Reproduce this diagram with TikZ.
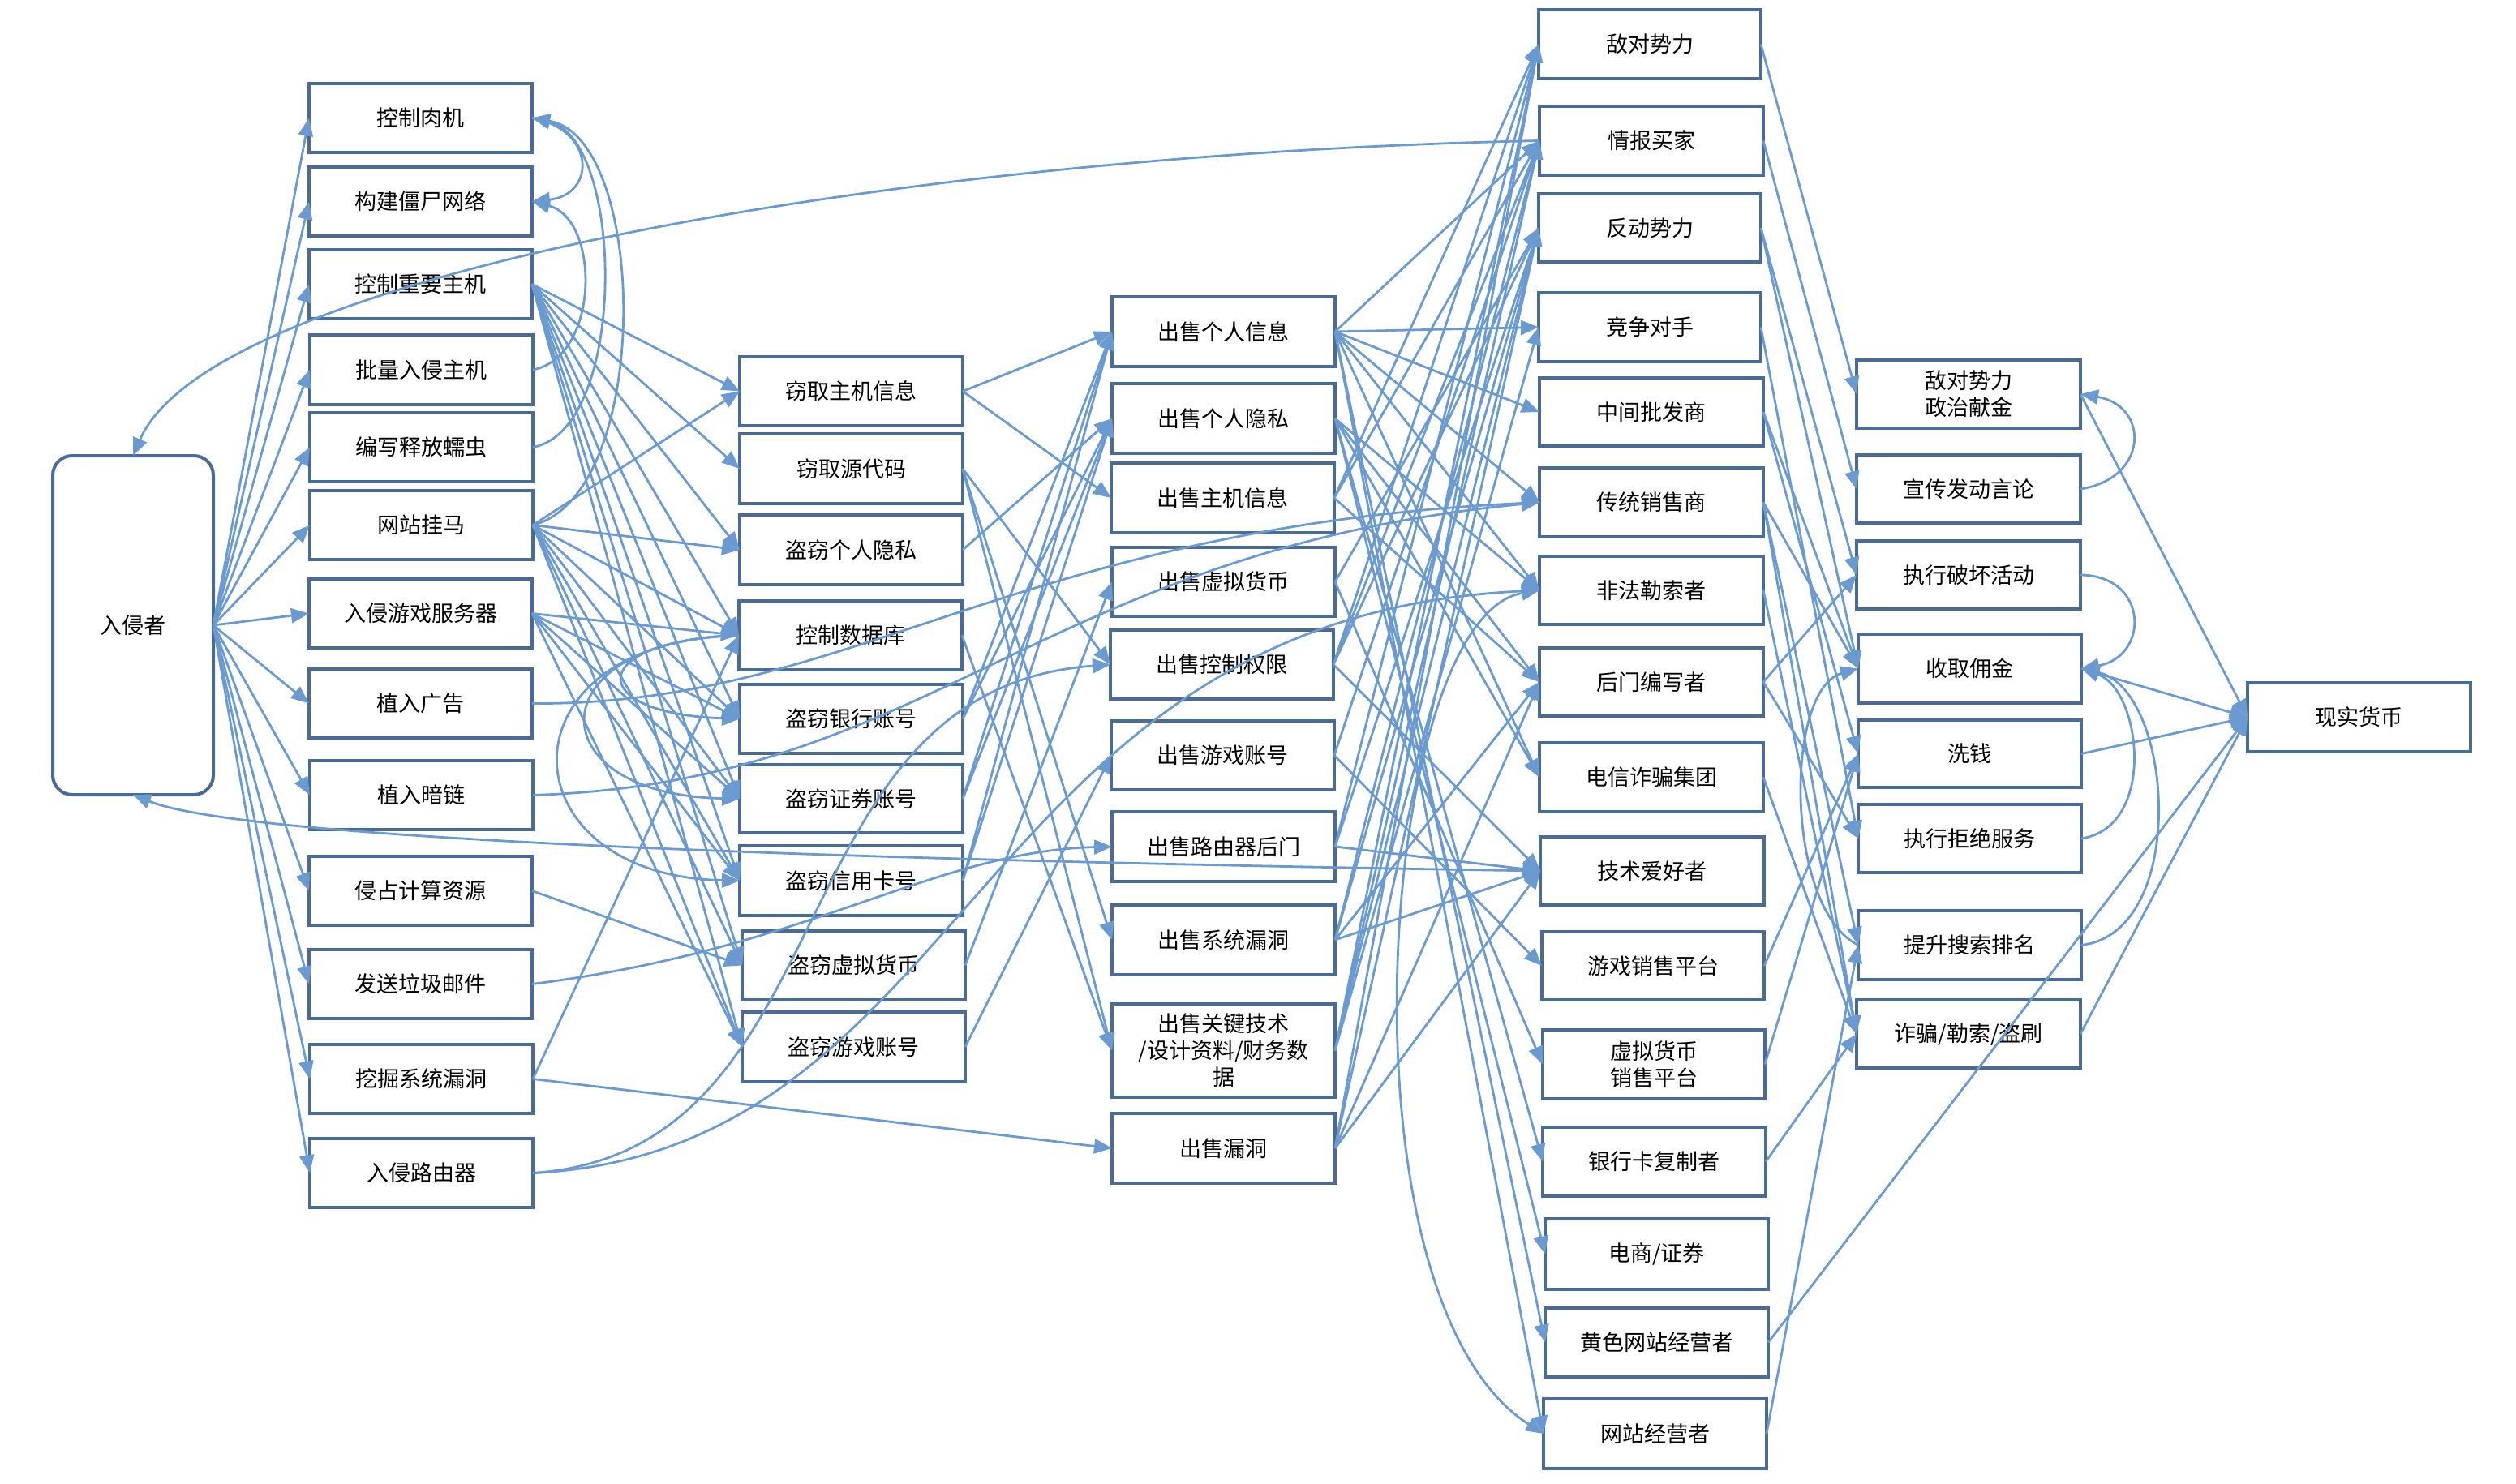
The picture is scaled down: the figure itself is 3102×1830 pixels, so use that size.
\documentclass[tikz,border=0pt]{standalone}
\usepackage{fontspec}
\setmainfont{Noto Sans CJK SC}
\usetikzlibrary{arrows.meta}
\definecolor{boxc}{HTML}{4A6A97}
\definecolor{linec}{HTML}{6A9AD0}
\tikzset{
  nbox/.style={draw=boxc, line width=2pt, fill=white, inner sep=0pt, outer sep=0pt, align=center, font=\fontsize{13.5}{16.5}\selectfont},
  arr/.style={draw=linec, line width=1.4pt, -{Triangle[length=11pt,width=9pt]}},
  arrb/.style={draw=linec, line width=1.4pt, {Triangle[length=11pt,width=9pt]}-{Triangle[length=11pt,width=9pt]}}
}
\newcommand{\mybox}[6]{%
  \pgfmathsetmacro{\mybw}{(#4-#2)/2}%
  \pgfmathsetmacro{\mybh}{(#5-#3)/2}%
  \node[nbox, minimum width=\mybw pt, minimum height=\mybh pt] (#1) at ({(#2+#4)/2},{(#3+#5)/2}) {#6};}
\begin{document}
\begin{tikzpicture}[x=0.5pt, y=-0.5pt]
\fill[white] (0,0) rectangle (3102,1830);
\useasboundingbox (0,0) rectangle (3102,1830);
% column 0
\node[nbox, rounded corners=12pt, minimum width=99pt, minimum height=209pt] (intr) at (164,771) {入侵者};
% column 1
\mybox{a1}{381}{103}{656}{188}{控制肉机}
\mybox{a2}{381}{206}{656}{291}{构建僵尸网络}
\mybox{a3}{381}{308}{656}{393}{控制重要主机}
\mybox{a4}{382}{413}{657}{499}{批量入侵主机}
\mybox{a5}{382}{509}{657}{594}{编写释放蠕虫}
\mybox{a6}{382}{605}{657}{690}{网站挂马}
\mybox{a7}{381}{714}{656}{799}{入侵游戏服务器}
\mybox{a8}{381}{825}{656}{910}{植入广告}
\mybox{a9}{382}{938}{657}{1023}{植入暗链}
\mybox{a10}{381}{1056}{656}{1141}{侵占计算资源}
\mybox{a11}{381}{1171}{656}{1256}{发送垃圾邮件}
\mybox{a12}{382}{1288}{657}{1373}{挖掘系统漏洞}
\mybox{a13}{382}{1404}{657}{1489}{入侵路由器}
% column 2
\mybox{b1}{912}{440}{1187}{525}{窃取主机信息}
\mybox{b2}{912}{535}{1187}{621}{窃取源代码}
\mybox{b3}{912}{635}{1187}{721}{盗窃个人隐私}
\mybox{b4}{911}{741}{1186}{826}{控制数据库}
\mybox{b5}{912}{844}{1187}{929}{盗窃银行账号}
\mybox{b6}{912}{943}{1187}{1027}{盗窃证券账号}
\mybox{b7}{912}{1043}{1187}{1129}{盗窃信用卡号}
\mybox{b8}{915}{1148}{1190}{1233}{盗窃虚拟货币}
\mybox{b9}{915}{1248}{1190}{1334}{盗窃游戏账号}
% column 3
\mybox{c1}{1371}{366}{1646}{452}{出售个人信息}
\mybox{c2}{1371}{473}{1646}{559}{出售个人隐私}
\mybox{c3}{1370}{571}{1645}{657}{出售主机信息}
\mybox{c4}{1371}{675}{1646}{760}{出售虚拟货币}
\mybox{c5}{1369}{777}{1644}{862}{出售控制权限}
\mybox{c6}{1370}{889}{1645}{974}{出售游戏账号}
\mybox{c7}{1371}{1001}{1646}{1087}{出售路由器后门}
\mybox{c8}{1371}{1116}{1646}{1202}{出售系统漏洞}
\mybox{c9}{1371}{1238}{1646}{1353}{出售关键技术\\/设计资料/财务数\\据}
\mybox{c10}{1371}{1373}{1646}{1459}{出售漏洞}
% column 4
\mybox{d1}{1897}{12}{2171}{97}{敌对势力}
\mybox{d2}{1898}{131}{2174}{216}{情报买家}
\mybox{d3}{1897}{239}{2171}{323}{反动势力}
\mybox{d4}{1897}{361}{2171}{446}{竞争对手}
\mybox{d5}{1898}{466}{2174}{550}{中间批发商}
\mybox{d6}{1898}{577}{2174}{662}{传统销售商}
\mybox{d7}{1898}{686}{2174}{770}{非法勒索者}
\mybox{d8}{1898}{799}{2174}{883}{后门编写者}
\mybox{d9}{1898}{916}{2174}{1001}{电信诈骗集团}
\mybox{d10}{1899}{1032}{2175}{1116}{技术爱好者}
\mybox{d11}{1901}{1149}{2175}{1233}{游戏销售平台}
\mybox{d12}{1902}{1270}{2176}{1355}{虚拟货币\\销售平台}
\mybox{d13}{1902}{1390}{2177}{1475}{银行卡复制者}
\mybox{d14}{1905}{1503}{2180}{1590}{电商/证券}
\mybox{d15}{1905}{1613}{2180}{1698}{黄色网站经营者}
\mybox{d16}{1903}{1725}{2178}{1811}{网站经营者}
% column 5
\mybox{e1}{2289}{444}{2565}{528}{敌对势力\\政治献金}
\mybox{e2}{2289}{561}{2565}{645}{宣传发动言论}
\mybox{e3}{2289}{667}{2565}{751}{执行破坏活动}
\mybox{e4}{2291}{782}{2566}{867}{收取佣金}
\mybox{e5}{2291}{888}{2566}{971}{洗钱}
\mybox{e6}{2291}{992}{2566}{1076}{执行拒绝服务}
\mybox{e7}{2291}{1123}{2566}{1208}{提升搜索排名}
\mybox{e8}{2289}{1233}{2565}{1317}{诈骗/勒索/盗刷}
\mybox{f}{2771}{842}{3046}{927}{现实货币}

% ---------- connectors ----------
\foreach \t in {a1,a2,a3,a4,a5,a6,a7,a8,a9,a10,a11,a12,a13}
  \draw[arr] (intr.east) -- (\t.west);
\draw[arr] (d2.west) .. controls (1100,190) and (260,340) .. (intr.north);
\draw[arr] (d10.west) .. controls (1000,1060) and (300,1035) .. (intr.south);
% loops in column 1
\draw[arr] (a1.east) .. controls (735,160) and (735,240) .. (a2.east);
\draw[arr] (a4.east) .. controls (740,440) and (740,270) .. (a2.east);
\draw[arr] (a5.east) .. controls (775,530) and (770,170) .. (a1.east);
\draw[arr] (a6.east) .. controls (805,610) and (800,170) .. (a1.east);
% column 1 -> column 2
\foreach \t in {b1,b2,b3,b4,b5,b6,b7,b8,b9}
  \draw[arr] (a3.east) -- (\t.west);
\foreach \t in {b1,b3,b4,b5,b6,b7,b8,b9}
  \draw[arr] (a6.east) -- (\t.west);
\foreach \t in {b4,b5,b6,b7,b9}
  \draw[arr] (a7.east) -- (\t.west);
\draw[arr] (a10.east) -- (b8.west);
\draw[arr] (a12.east) -- (b4.west);
\draw[arr] (a12.east) -- (c10.west);
% loops from control database
\draw[arr] (b4.west) .. controls (720,790) and (720,880) .. (b5.west);
\draw[arr] (b4.west) .. controls (660,790) and (660,980) .. (b6.west);
\draw[arr] (b4.west) .. controls (610,790) and (620,1080) .. (b7.west);
% long curves
\draw[arr] (a8.east) .. controls (1050,870) and (1250,650) .. (d6.west);
\draw[arr] (a9.east) .. controls (1150,965) and (1280,680) .. (d6.west);
\draw[arr] (a11.east) .. controls (1000,1170) and (1150,1050) .. (c7.west);
\draw[arr] (a13.east) .. controls (1050,1420) and (950,850) .. (c5.west);
\draw[arr] (a13.east) .. controls (1200,1420) and (1200,760) .. (d7.west);
\draw[arrb] (d7.west) .. controls (1700,760) and (1640,1600) .. (d16.west);
% column 2 -> column 3
\draw[arr] (b1.east) -- (c1.west);
\draw[arr] (b1.east) -- (c3.west);
\draw[arr] (b2.east) -- (c5.west);
\draw[arr] (b2.east) -- (c8.west);
\draw[arr] (b2.east) -- (c9.west);
\draw[arr] (b3.east) -- (c2.west);
\draw[arr] (b4.east) -- (c9.west);
\foreach \s in {b5,b6,b7} {
  \draw[arr] (\s.east) -- (c1.west);
  \draw[arr] (\s.east) -- (c2.west);
}
\draw[arr] (b8.east) -- (c4.west);
\draw[arr] (b9.east) -- (c6.west);
% column 3 -> column 4
\foreach \t in {d2,d4,d5,d6,d7,d9,d15,d16}
  \draw[arr] (c1.east) -- (\t.west);
\foreach \t in {d7,d8,d9,d13,d14}
  \draw[arr] (c2.east) -- (\t.west);
\foreach \t in {d1,d2,d8}
  \draw[arr] (c3.east) -- (\t.west);
\foreach \t in {d3,d12}
  \draw[arr] (c4.east) -- (\t.west);
\foreach \t in {d1,d2,d3,d10}
  \draw[arr] (c5.east) -- (\t.west);
\foreach \t in {d2,d11}
  \draw[arr] (c6.east) -- (\t.west);
\foreach \t in {d1,d3,d10}
  \draw[arr] (c7.east) -- (\t.west);
\foreach \t in {d2,d3,d8,d10}
  \draw[arr] (c8.east) -- (\t.west);
\foreach \t in {d1,d2,d3,d4}
  \draw[arr] (c9.east) -- (\t.west);
\foreach \t in {d1,d3,d8,d10}
  \draw[arr] (c10.east) -- (\t.west);
% column 4 -> column 5
\draw[arr] (d1.east) -- (e1.west);
\draw[arr] (d2.east) -- (e2.west);
\draw[arr] (d3.east) -- (e3.west);
\draw[arr] (d3.east) -- (e4.west);
\draw[arr] (d4.east) -- (e6.west);
\draw[arr] (d5.east) -- (e4.west);
\draw[arr] (d5.east) -- (e5.west);
\draw[arr] (d6.east) -- (e4.west);
\draw[arr] (d6.east) -- (e7.west);
\draw[arr] (d6.east) -- (e8.west);
\draw[arr] (d7.east) -- (e8.west);
\draw[arr] (d8.east) -- (e3.west);
\draw[arr] (d8.east) -- (e6.west);
\draw[arr] (d9.east) -- (e8.west);
\draw[arr] (d11.east) -- (e5.west);
\draw[arr] (d12.east) -- (e5.west);
\draw[arr] (d13.east) -- (e8.west);
\draw[arr] (d16.east) -- (e7.west);
\draw[arr] (d15.east) -- (f.west);
\draw[arr] (e7.west) .. controls (2200,1120) and (2200,850) .. (e4.west);
% column 5 -> money
\draw[arr] (e1.east) -- (f.west);
\draw[arr] (e4.east) -- (f.west);
\draw[arr] (e5.east) -- (f.west);
\draw[arr] (e8.east) -- (f.west);
\draw[arr] (e2.east) .. controls (2650,590) and (2650,500) .. (e1.east);
\draw[arr] (e3.east) .. controls (2650,710) and (2650,810) .. (e4.east);
\draw[arr] (e6.east) .. controls (2660,1020) and (2640,850) .. (e4.east);
\draw[arr] (e7.east) .. controls (2700,1150) and (2680,850) .. (e4.east);
\end{tikzpicture}
\end{document}
